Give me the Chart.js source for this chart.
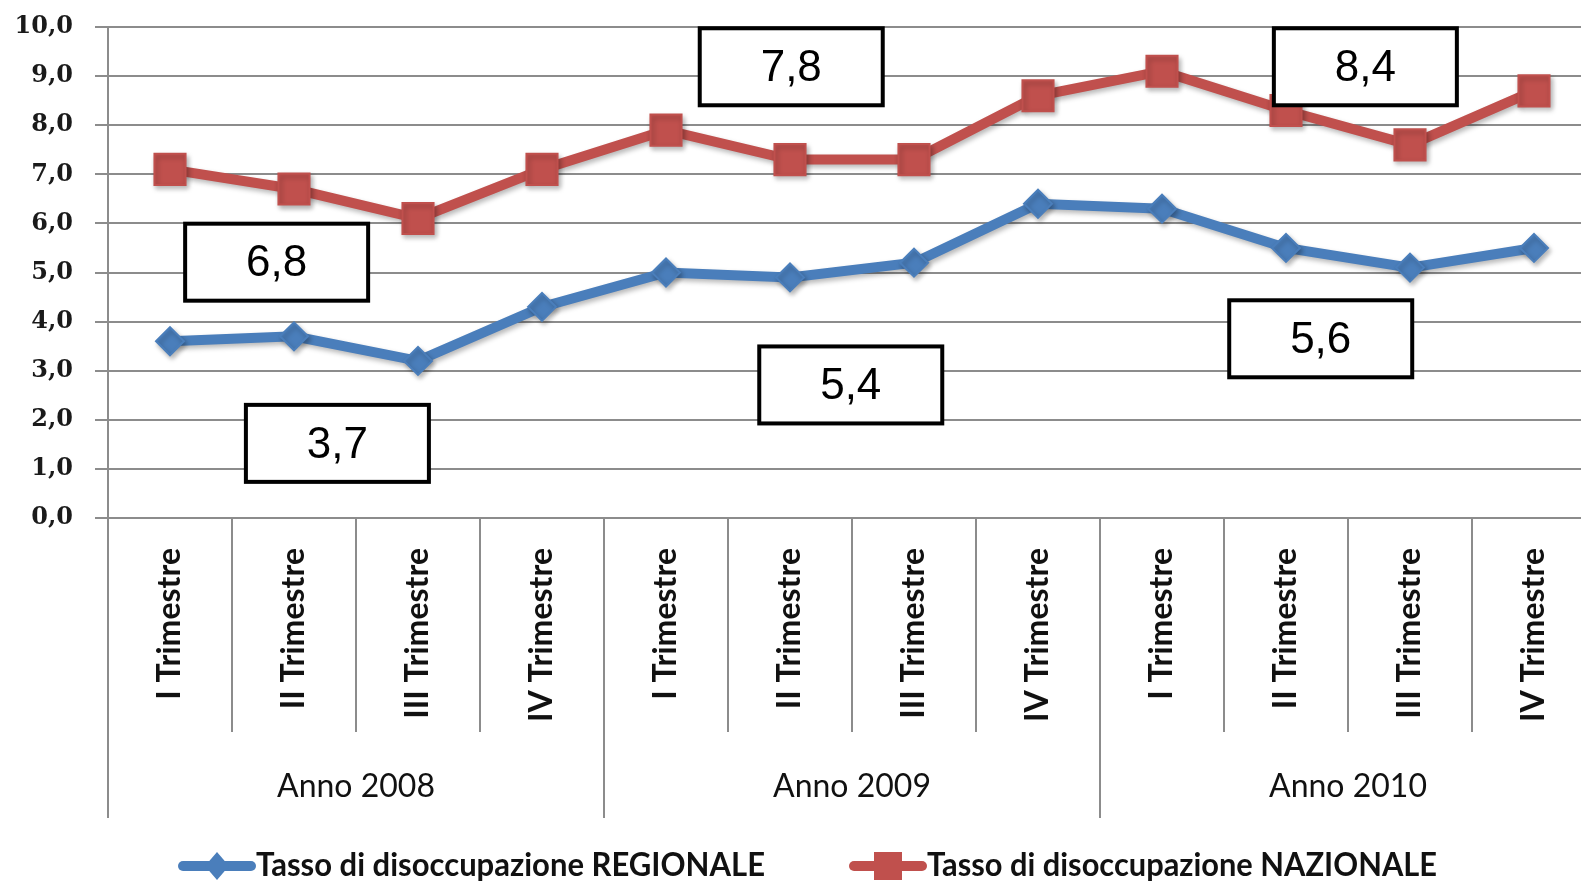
<!DOCTYPE html>
<html>
<head>
<meta charset="utf-8">
<script src="https://cdn.jsdelivr.net/npm/chart.js@4.4.1/dist/chart.umd.min.js"></script>
<style>
html,body{margin:0;padding:0;background:#fff;overflow:hidden;}
#wrap{width:1620px;height:882px;}
</style>
</head>
<body>
<div id="wrap"><canvas id="c" width="1620" height="882"></canvas></div>
<script>
const quarterLabels = ['I Trimestre','II Trimestre','III Trimestre','IV Trimestre',
                       'I Trimestre','II Trimestre','III Trimestre','IV Trimestre',
                       'I Trimestre','II Trimestre','III Trimestre','IV Trimestre'];
const yearLabels = ['Anno 2008','Anno 2009','Anno 2010'];
const regionale = [3.6, 3.7, 3.2, 4.3, 5.0, 4.9, 5.2, 6.4, 6.3, 5.5, 5.1, 5.5];
const nazionale = [7.1, 6.7, 6.1, 7.1, 7.9, 7.3, 7.3, 8.6, 9.1, 8.3, 7.6, 8.7];
const seriesNames = ['Tasso di disoccupazione REGIONALE','Tasso di disoccupazione NAZIONALE'];
// callout boxes: text, x (category units), y (value units)
const calloutText = ['6,8','3,7','7,8','5,4','8,4','5,6'];
const calloutX = [0.86, 1.35, 5.01, 5.49, 9.64, 9.28];
const calloutY = [5.21, 1.52, 9.19, 2.71, 9.19, 3.65];

const BLUE = '#4a7ebb';
const RED = '#c0504d';
const GRID = '#8c8c8c';

const fmt = v => v.toFixed(1).replace('.', ',');

const shadowPlugin = {
  id: 'shadow',
  beforeDatasetDraw(chart) {
    const ctx = chart.ctx;
    ctx.save();
    ctx.shadowColor = 'rgba(0,0,0,0.28)';
    ctx.shadowBlur = 5;
    ctx.shadowOffsetX = 2;
    ctx.shadowOffsetY = 3;
  },
  afterDatasetDraw(chart) {
    chart.ctx.restore();
  }
};

const decorPlugin = {
  id: 'decor',
  afterDraw(chart) {
    const ctx = chart.ctx;
    const xs = chart.scales.x, ys = chart.scales.y;
    const top = chart.chartArea.bottom;
    const step = xs.getPixelForValue(1) - xs.getPixelForValue(0);
    ctx.save();
    ctx.strokeStyle = GRID;
    ctx.lineWidth = 2;
    // y axis line extension
    ctx.beginPath();
    ctx.moveTo(chart.chartArea.left, chart.chartArea.top);
    ctx.lineTo(chart.chartArea.left, 818);
    ctx.stroke();
    // category separators
    for (let i = 0; i < quarterLabels.length - 1; i++) {
      const x = Math.round((xs.getPixelForValue(i) + xs.getPixelForValue(i + 1)) / 2);
      const isYear = (i + 1) % 4 === 0;
      ctx.beginPath();
      ctx.moveTo(x, top);
      ctx.lineTo(x, isYear ? 818 : 732);
      ctx.stroke();
    }
    // year labels
    ctx.fillStyle = '#111';
    ctx.font = '32px Lato';
    ctx.textAlign = 'center';
    ctx.textBaseline = 'middle';
    yearLabels.forEach((t, g) => {
      const a = xs.getPixelForValue(g * 4) - step / 2;
      const b = xs.getPixelForValue(g * 4 + 3) + step / 2;
      ctx.fillText(t, (a + b) / 2, 787);
    });
    ctx.restore();

    // callout boxes
    ctx.save();
    const w = 183, h = 77;
    calloutText.forEach((t, i) => {
      const cx = xs.getPixelForValue(calloutX[i]);
      const cy = ys.getPixelForValue(calloutY[i]);
      ctx.fillStyle = '#fff';
      ctx.fillRect(cx - w / 2, cy - h / 2, w, h);
      ctx.lineWidth = 4;
      ctx.strokeStyle = '#000';
      ctx.strokeRect(cx - w / 2, cy - h / 2, w, h);
      ctx.fillStyle = '#000';
      ctx.font = '44px "Liberation Sans"';
      ctx.textAlign = 'center';
      ctx.textBaseline = 'middle';
      ctx.fillText(t, cx, cy + 2);
    });
    ctx.restore();

    // legend
    ctx.save();
    const ly = 866;
    const items = [
      {x0: 179, color: BLUE, style: 'diamond', text: seriesNames[0], tw: 509},
      {x0: 850, color: RED, style: 'square', text: seriesNames[1], tw: 510}
    ];
    items.forEach(it => {
      ctx.strokeStyle = it.color;
      ctx.lineWidth = 10;
      ctx.lineCap = 'round';
      ctx.beginPath();
      ctx.moveTo(it.x0 + 4, ly);
      ctx.lineTo(it.x0 + 72, ly);
      ctx.stroke();
      ctx.fillStyle = it.color;
      const mx = it.x0 + 38;
      if (it.style === 'diamond') {
        ctx.beginPath();
        ctx.moveTo(mx, ly - 14); ctx.lineTo(mx + 12, ly); ctx.lineTo(mx, ly + 14); ctx.lineTo(mx - 12, ly);
        ctx.closePath(); ctx.fill();
      } else {
        ctx.fillRect(mx - 14, ly - 14, 28, 28);
      }
      ctx.fillStyle = '#111';
      ctx.font = 'bold 32px Lato';
      ctx.textAlign = 'left';
      ctx.textBaseline = 'middle';
      const mw = ctx.measureText(it.text).width;
      ctx.save();
      ctx.translate(it.x0 + 77, ly);
      ctx.scale(it.tw / mw, 1);
      ctx.fillText(it.text, 0, 0);
      ctx.restore();
    });
    ctx.restore();
  }
};

new Chart(document.getElementById('c'), {
  type: 'line',
  data: {
    labels: quarterLabels,
    datasets: [
      {
        label: seriesNames[0], data: regionale,
        borderColor: BLUE, backgroundColor: BLUE, borderWidth: 10,
        pointStyle: 'rectRot', pointRadius: 14, pointBorderWidth: 2,
        pointBackgroundColor: BLUE, pointBorderColor: BLUE,
        tension: 0, fill: false
      },
      {
        label: seriesNames[1], data: nazionale,
        borderColor: RED, backgroundColor: RED, borderWidth: 10,
        pointStyle: 'rect', pointRadius: 22, pointBorderWidth: 2,
        pointBackgroundColor: RED, pointBorderColor: RED,
        tension: 0, fill: false
      }
    ]
  },
  options: {
    responsive: false,
    animation: false,
    devicePixelRatio: 1,
    layout: {padding: {top: 27, bottom: 64, left: 0, right: 5}},
    plugins: {legend: {display: false}, tooltip: {enabled: false}},
    scales: {
      x: {
        offset: true,
        grid: {display: true, drawOnChartArea: false, drawTicks: true, tickLength: 30,
               tickColor: 'rgba(0,0,0,0)', color: 'rgba(0,0,0,0)'},
        border: {display: false},
        ticks: {
          autoSkip: false, minRotation: 90, maxRotation: 90, padding: 0,
          color: '#111', font: {family: 'Lato', size: 32, weight: 'bold'}
        },
        afterFit(s) { s.height = 300; s.paddingLeft = 0; s.paddingRight = 0; }
      },
      y: {
        min: 0, max: 10,
        grid: {color: GRID, lineWidth: 2, tickLength: 13},
        border: {display: true, color: GRID, width: 2},
        ticks: {
          stepSize: 1, padding: 22, color: '#1a1a1a',
          font: {family: 'DejaVu Serif', size: 24, weight: 'bold', lineHeight: 0.3},
          callback: v => fmt(v)
        },
        afterFit(s) { s.width = 108; }
      }
    }
  },
  plugins: [shadowPlugin, decorPlugin]
});
</script>
</body>
</html>
